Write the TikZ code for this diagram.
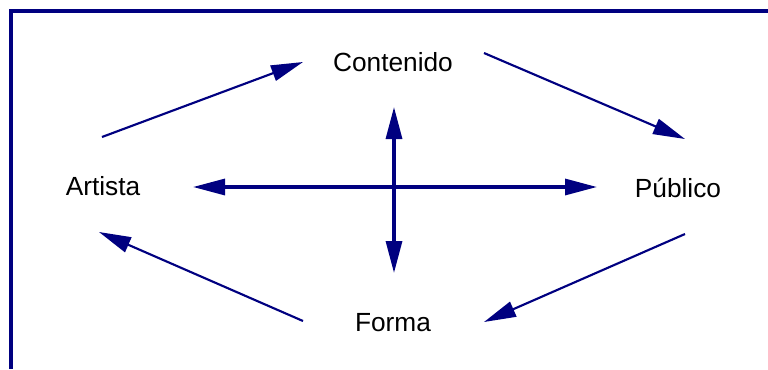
\documentclass[tikz,border=0pt]{standalone}
\usepackage{fontspec}
\setmainfont{Liberation Sans}
\usetikzlibrary{arrows.meta}
\definecolor{navy}{RGB}{0,0,128}

\begin{document}
\begin{tikzpicture}[x=0.75pt, y=-0.75pt, >={Triangle[length=24pt, width=12pt]},
  lbl/.style={anchor=base, inner sep=0pt, font=\fontsize{19.7}{24}\selectfont},
  link/.style={->, line width=1.6pt, draw=navy, fill=navy},
  axis/.style={<->, line width=2.4pt, draw=navy, fill=navy}
]
\useasboundingbox (0,0) rectangle (768,369);
\draw[navy, line width=2.4pt] (11,369) -- (11,11) -- (768,11);
\node[lbl] (con) at (393,71) {Contenido};
\node[lbl] (art) at (103,195) {Artista};
\node[lbl] (pub) at (678,197) {Público};
\node[lbl] (for) at (393,331) {Forma};
\coordinate (a1) at (102,137);
\coordinate (c1) at (303,62);
\coordinate (c2) at (484,53);
\coordinate (p1) at (685,139);
\coordinate (p2) at (685,234);
\coordinate (f1) at (484,322);
\coordinate (f2) at (303,321);
\coordinate (a2) at (99,232);
\coordinate (hl) at (193,187);
\coordinate (hr) at (597,187);
\coordinate (vt) at (394,107);
\coordinate (vb) at (394,273);
\draw[link] (a1) -- (c1);
\draw[link] (c2) -- (p1);
\draw[link] (p2) -- (f1);
\draw[link] (f2) -- (a2);
\draw[axis] (hl) -- (hr);
\draw[axis] (vt) -- (vb);
\end{tikzpicture}
\end{document}
